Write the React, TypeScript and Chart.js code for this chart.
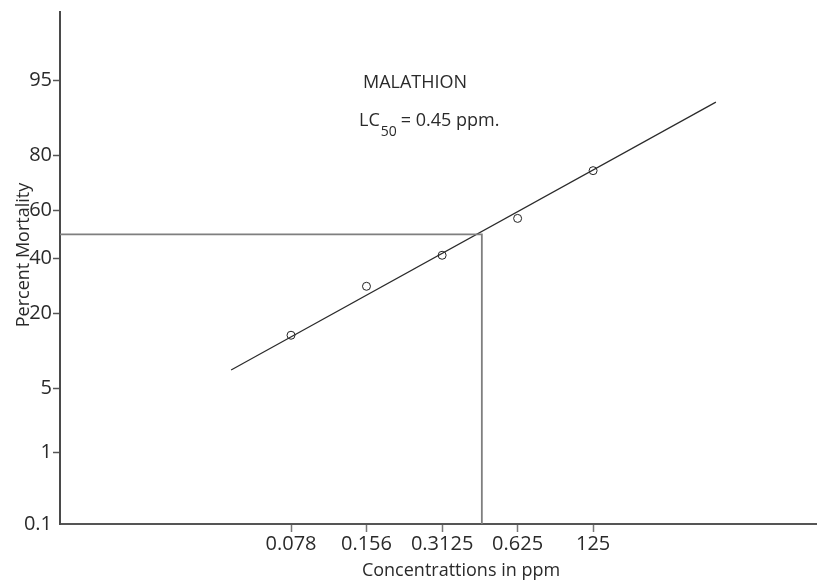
import React, { useEffect, useRef } from "react";
import { Chart, registerables } from "chart.js";

Chart.register(...registerables);

// ---- data ----
const doses = [0.078, 0.156, 0.3125, 0.625, 1.25];
const doseLabels = ["0.078", "0.156", "0.3125", "0.625", "125"];
const mortality = [14.1, 29.0, 41.2, 56.8, 75.2];
const percentTicks = [0.1, 1, 5, 20, 40, 60, 80, 95];
const percentLabels = ["0.1", "1", "5", "20", "40", "60", "80", "95"];
const fitDoses = [0.045, 3.86];
const fitMortality = [7.4, 92.1];
const lc50Dose = 0.45;
const lc50Pct = 50;
const xRange = [0.00935, 9.77];
const yRange = [0.1, 99.12];

// inverse normal CDF (Acklam)
function probit(p: number): number {
  const a = [-3.969683028665376e1, 2.209460984245205e2, -2.759285104469687e2, 1.38357751867269e2, -3.066479806614716e1, 2.506628277459239];
  const b = [-5.447609879822406e1, 1.615858368580409e2, -1.556989798598866e2, 6.680131188771972e1, -1.328068155288572e1];
  const c = [-7.784894002430293e-3, -3.223964580411365e-1, -2.400758277161838, -2.549732539343734, 4.374664141464968, 2.938163982698783];
  const d = [7.784695709041462e-3, 3.224671290700398e-1, 2.445134137142996, 3.754408661907416];
  const pl = 0.02425;
  if (p < pl) {
    const q = Math.sqrt(-2 * Math.log(p));
    return (((((c[0] * q + c[1]) * q + c[2]) * q + c[3]) * q + c[4]) * q + c[5]) / ((((d[0] * q + d[1]) * q + d[2]) * q + d[3]) * q + 1);
  }
  if (p <= 1 - pl) {
    const q = p - 0.5;
    const r = q * q;
    return ((((((a[0] * r + a[1]) * r + a[2]) * r + a[3]) * r + a[4]) * r + a[5]) * q) / (((((b[0] * r + b[1]) * r + b[2]) * r + b[3]) * r + b[4]) * r + 1);
  }
  const q = Math.sqrt(-2 * Math.log(1 - p));
  return -(((((c[0] * q + c[1]) * q + c[2]) * q + c[3]) * q + c[4]) * q + c[5]) / ((((d[0] * q + d[1]) * q + d[2]) * q + d[3]) * q + 1);
}
const pz = (pct: number) => probit(pct / 100);

const FONT = "'Open Sans', 'DejaVu Sans', sans-serif";
const TEXT = "#2a2a2a";

const textPlugin = {
  id: "textPlugin",
  afterDraw(chart: any) {
    const ctx = chart.ctx;
    ctx.save();
    ctx.fillStyle = TEXT;
    ctx.textBaseline = "alphabetic";
    // axis titles
    ctx.font = `18px ${FONT}`;
    ctx.textAlign = "center";
    ctx.fillText("Concentrattions in ppm", 461, 576);
    ctx.save();
    ctx.translate(29, 255);
    ctx.rotate(-Math.PI / 2);
    ctx.fillText("Percent Mortality", 0, 0);
    ctx.restore();
    // annotations
    ctx.textAlign = "left";
    ctx.font = `18px ${FONT}`;
    ctx.fillText("MALATHION", 363, 88);
    ctx.fillText("LC", 359, 126);
    const w1 = ctx.measureText("LC").width;
    ctx.font = `14px ${FONT}`;
    ctx.fillText("50", 359 + w1 + 1, 136);
    const w2 = ctx.measureText("50").width;
    ctx.font = `18px ${FONT}`;
    ctx.fillText("= 0.45 ppm.", 359 + w1 + w2 + 5, 126);
    ctx.restore();
  },
};

export default function App() {
  const ref = useRef<HTMLCanvasElement | null>(null);
  useEffect(() => {
    if (!ref.current) return;
    const chart = new Chart(ref.current, {
      type: "scatter",
      data: {
        datasets: [
          {
            label: "LC50",
            data: [
              { x: xRange[0], y: pz(lc50Pct) },
              { x: lc50Dose, y: pz(lc50Pct) },
              { x: lc50Dose, y: pz(yRange[0]) },
            ],
            showLine: true,
            borderColor: "#7f7f7f",
            borderWidth: 1.8,
            pointRadius: 0,
            tension: 0,
          },
          {
            label: "fit",
            data: fitDoses.map((x, i) => ({ x, y: pz(fitMortality[i]) })),
            showLine: true,
            borderColor: "#2b2b2b",
            borderWidth: 1.2,
            pointRadius: 0,
          },
          {
            label: "obs",
            data: doses.map((x, i) => ({ x, y: pz(mortality[i]) })),
            showLine: false,
            pointRadius: 4,
            pointBorderWidth: 1,
            borderColor: "#222222",
            backgroundColor: "rgba(255,255,255,0)",
            pointStyle: "circle",
          },
        ],
      },
      options: {
        responsive: false,
        animation: false,
        devicePixelRatio: 1,
        layout: { autoPadding: false, padding: { top: 12, left: 0, right: 0, bottom: 0 } },
        plugins: { legend: { display: false }, tooltip: { enabled: false } },
        scales: {
          x: {
            type: "logarithmic",
            min: xRange[0],
            max: xRange[1],
            bounds: "data",
            afterBuildTicks: (s: any) => {
              s.ticks = doses.map((v) => ({ value: v }));
            },
            afterFit: (s: any) => {
              s.height = 57;
              s.paddingLeft = 0;
              s.paddingRight = 0;
            },
            grid: { display: true, drawOnChartArea: false, drawTicks: true, tickLength: 8, tickColor: "#777", tickWidth: 1.5 },
            border: { display: true, color: "#555", width: 2 },
            ticks: {
              autoSkip: false,
              maxRotation: 0,
              padding: 2,
              color: TEXT,
              font: { family: FONT, size: 20, lineHeight: 1 },
              callback: (v: any) => {
                const i = doses.findIndex((d) => Math.abs(d - v) < 1e-9);
                return i >= 0 ? doseLabels[i] : "";
              },
            },
          },
          y: {
            type: "linear",
            min: pz(yRange[0]),
            max: pz(yRange[1]),
            bounds: "data",
            afterBuildTicks: (s: any) => {
              s.ticks = percentTicks.map((p) => ({ value: pz(p) }));
            },
            afterFit: (s: any) => {
              s.width = 60;
              s.paddingTop = 0;
              s.paddingBottom = 0;
            },
            grid: {
              display: true,
              drawOnChartArea: false,
              drawTicks: true,
              tickLength: 7,
              tickWidth: 1.5,
              tickColor: (ctx: any) => (ctx.index === 0 ? "rgba(0,0,0,0)" : "#555"),
            },
            border: { display: true, color: "#4a4a4a", width: 2 },
            ticks: {
              autoSkip: false,
              padding: 1,
              color: TEXT,
              font: { family: FONT, size: 20, lineHeight: 1 },
              callback: (v: any) => {
                const i = percentTicks.findIndex((p) => Math.abs(pz(p) - v) < 1e-6);
                return i >= 0 ? percentLabels[i] : "";
              },
            },
          },
        },
      },
      plugins: [textPlugin],
    } as any);
    return () => chart.destroy();
  }, []);
  return (
    <div style={{ position: "absolute", left: 0, top: 0, width: 817, height: 581, background: "#fff" }}>
      <canvas ref={ref} width={817} height={581} style={{ display: "block", width: 817, height: 581 }} />
    </div>
  );
}
